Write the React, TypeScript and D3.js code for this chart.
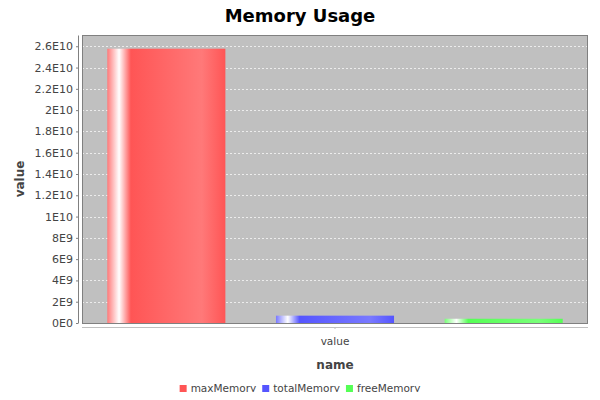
import { useEffect, useRef } from 'react';
import * as d3 from 'd3';

const width = 600;
const height = 400;
// plot area in pixels
const [pl, pt, pr, pb] = [82, 35, 588, 323];

const categories = ['value'];
const series = ['maxMemory', 'totalMemory', 'freeMemory'];
const values = [25769803776, 690000000, 400000000];
const colors = ['#ff5555', '#5555ff', '#55ff55'];
const brighter = ['#ff7979', '#7979ff', '#79ff79'];
const yTicks = [0, 2e9, 4e9, 6e9, 8e9, 1e10, 1.2e10, 1.4e10, 1.6e10, 1.8e10, 2e10, 2.2e10, 2.4e10, 2.6e10];

const font = '"DejaVu Sans", Verdana, sans-serif';

// JFreeChart style: 2.6E10, 8E9, 0E0
function sci(v: number) {
    if (v === 0) return '0E0';
    const e = Math.floor(Math.log10(v) + 1e-9);
    const m = Math.round((v / Math.pow(10, e)) * 10) / 10;
    return `${m}E${e}`;
}

function App() {
    const ref = useRef<SVGSVGElement>(null);

    useEffect(() => {
        const svg = d3.select(ref.current);
        svg.selectAll('*').remove();

        const y = d3
            .scaleLinear()
            .domain([0, d3.max(values)! * 1.05])
            .range([pb, pt]);

        // category axis, 5% margins each side
        const catMargin = (pr - pl) * 0.05;
        const x = d3
            .scaleBand()
            .domain(categories)
            .range([pl + catMargin, pr - catMargin]);

        const xs = d3
            .scaleBand()
            .domain(series)
            .range([0, x.bandwidth()])
            .paddingInner(0.3);

        // gradients like GradientBarPainter
        const defs = svg.append('defs');
        series.forEach((s, i) => {
            const g = defs.append('linearGradient').attr('id', `grad-${s}`).attr('x1', 0).attr('x2', 1).attr('y1', 0).attr('y2', 0);
            [
                [0, brighter[i]],
                [0.1, '#ffffff'],
                [0.2, colors[i]],
                [0.8, brighter[i]],
                [1, colors[i]]
            ].forEach(([o, c]) => g.append('stop').attr('offset', o as number).attr('stop-color', c as string));
        });

        svg.append('text')
            .attr('x', width / 2)
            .attr('y', 22)
            .attr('text-anchor', 'middle')
            .attr('font-family', font)
            .attr('font-weight', 'bold')
            .attr('font-size', 18)
            .text('Memory Usage');

        // plot background
        svg.append('rect')
            .attr('x', pl)
            .attr('y', pt)
            .attr('width', pr - pl)
            .attr('height', pb - pt)
            .attr('fill', '#c0c0c0');

        // gridlines
        svg.append('g')
            .selectAll('line')
            .data(yTicks)
            .join('line')
            .attr('x1', pl)
            .attr('x2', pr)
            .attr('y1', (d) => Math.round(y(d)) + 0.5)
            .attr('y2', (d) => Math.round(y(d)) + 0.5)
            .attr('stroke', '#ececec')
            .attr('stroke-width', 1)
            .attr('stroke-dasharray', '2,2');

        // bars
        svg.append('g')
            .selectAll('rect')
            .data(series)
            .join('rect')
            .attr('x', (s) => x('value')! + xs(s)!)
            .attr('y', (_, i) => y(values[i]))
            .attr('width', xs.bandwidth())
            .attr('height', (_, i) => pb - y(values[i]))
            .attr('fill', (s) => `url(#grad-${s})`);

        // plot border
        svg.append('rect')
            .attr('x', pl + 0.5)
            .attr('y', pt + 0.5)
            .attr('width', pr - pl - 1)
            .attr('height', pb - pt)
            .attr('fill', 'none')
            .attr('stroke', '#808080')
            .attr('stroke-width', 1);

        // y axis
        const yAxisG = svg.append('g').attr('transform', `translate(${pl - 4},0)`);
        yAxisG
            .call(d3.axisLeft(y).tickValues(yTicks).tickFormat((d) => sci(+d)).tickSizeInner(2).tickSizeOuter(0).tickPadding(3))
            .call((g) => g.select('.domain').attr('stroke', '#808080'))
            .call((g) => g.selectAll('.tick line').attr('stroke', '#808080'))
            .call((g) => g.selectAll('.tick text').attr('fill', '#444444').attr('font-size', 11).attr('font-family', font));

        // category axis, line spans the whole plot width
        svg.append('line')
            .attr('x1', pl)
            .attr('x2', pr)
            .attr('y1', pb + 4.5)
            .attr('y2', pb + 4.5)
            .attr('stroke', '#c0c0c0');
        const xAxisG = svg.append('g').attr('transform', `translate(0,${pb + 4})`);
        xAxisG
            .call(d3.axisBottom(x).tickSizeInner(2).tickSizeOuter(0).tickPadding(9))
            .call((g) => g.select('.domain').remove())
            .call((g) => g.selectAll('.tick line').attr('stroke', '#c0c0c0'))
            .call((g) => g.selectAll('.tick text').attr('fill', '#444444').attr('font-size', 10.5).attr('font-family', font));

        svg.append('text')
            .attr('transform', `translate(24,${(pt + pb) / 2}) rotate(-90)`)
            .attr('text-anchor', 'middle')
            .attr('font-family', font)
            .attr('font-weight', 'bold')
            .attr('font-size', 12)
            .attr('fill', '#444444')
            .text('value');

        svg.append('text')
            .attr('x', (pl + pr) / 2)
            .attr('y', 369)
            .attr('text-anchor', 'middle')
            .attr('font-family', font)
            .attr('font-weight', 'bold')
            .attr('font-size', 12)
            .attr('fill', '#444444')
            .text('name');

        // legend
        const legend = svg.append('g').attr('font-family', font).attr('font-size', 10.5);
        const items = legend
            .selectAll('g')
            .data(series)
            .join('g');
        items.append('rect').attr('width', 7).attr('height', 7).attr('y', -7).attr('fill', (_, i) => colors[i]);
        items.append('text').attr('x', 11).attr('y', 0).attr('fill', '#444444').text((s) => s);
        let cx = 0;
        const widths: number[] = [];
        items.each(function () {
            widths.push((this as SVGGElement).getBBox().width);
        });
        items.attr('transform', (_, i) => {
            const t = `translate(${cx},0)`;
            cx += widths[i] + 6;
            return t;
        });
        const total = cx - 6;
        legend.attr('transform', `translate(${(width - total) / 2},392)`);
    }, []);

    return <svg ref={ref} width={width} height={height} style={{ display: 'block', margin: -8 }} />;
}

export default App;
